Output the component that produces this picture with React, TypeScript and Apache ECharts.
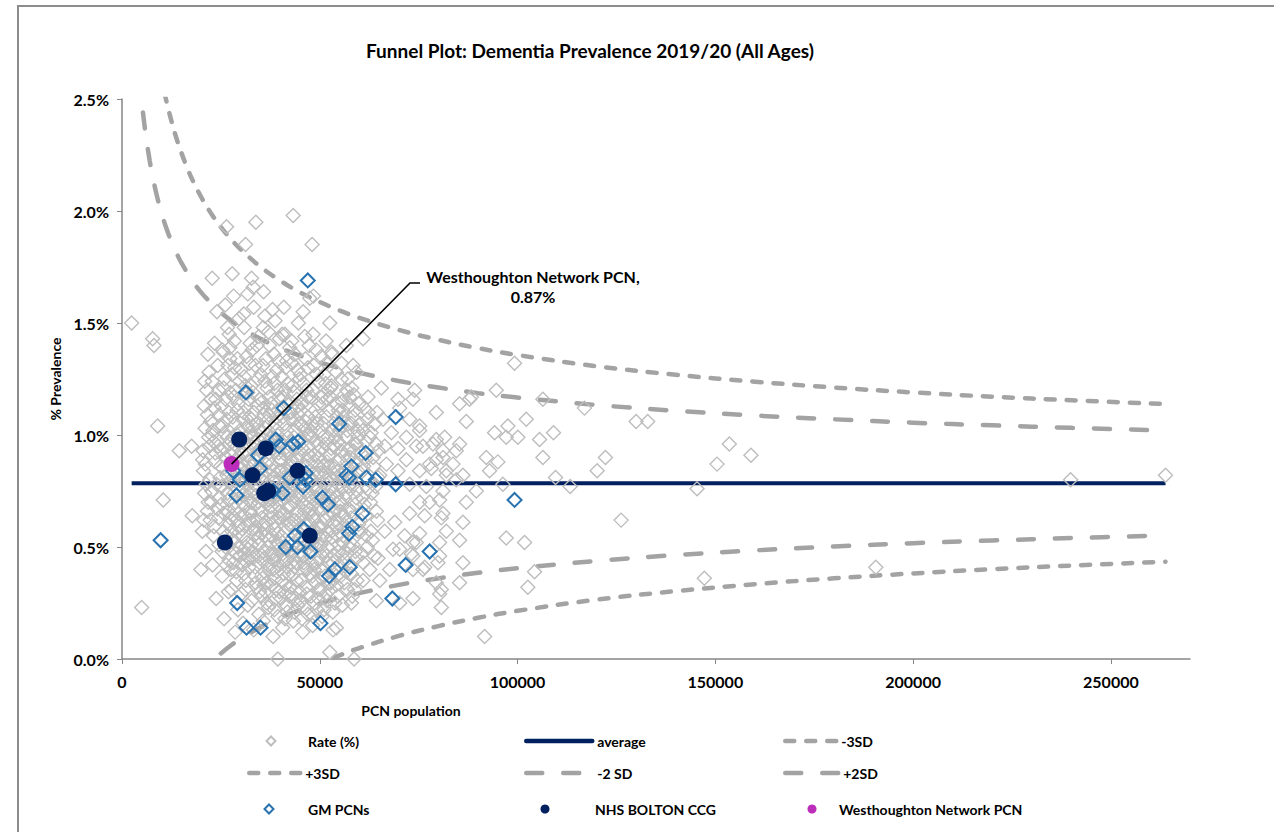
import React, { useEffect, useRef } from "react";
import * as echarts from "echarts";

const xTicks = [0, 50000, 100000, 150000, 200000, 250000];
const yTicks = [0, 0.5, 1, 1.5, 2, 2.5];

// Rate (%) — all PCNs: [population, prevalence %]
const ratePoints: number[][] = [
  [2440, 1.5], [4970, 0.23], [7750, 1.43], [8080, 1.4], [9010, 1.04], [10430, 0.71], [14470, 0.93], [17600, 0.95], [17750, 0.64], [19950, 0.4],
  [22800, 1.7], [26430, 1.93], [27860, 1.72], [31230, 1.85], [32750, 1.7], [33160, 1.66], [33840, 1.95], [43270, 1.98], [47470, 1.61], [48060, 1.85],
  [38050, 1.56], [36110, 1.53], [52530, 1.5], [26680, 1.48], [30890, 1.48], [35690, 1.48], [41160, 1.45], [46210, 1.44], [48310, 1.45], [56730, 1.4],
  [60940, 1.43], [58420, 1.31], [25590, 1.37], [27270, 1.39],
  [52950, 1.37], [51680, 1.32], [55470, 1.25], [52950, 1.22], [65570, 1.21], [57580, 1.17], [62200, 1.17], [69780, 1.16], [73560, 1.16], [87880, 1.16],
  [57580, 1.13], [70200, 1.12], [65990, 1.07], [72730, 1.07], [63890, 1.05], [75250, 1.04], [68100, 1.01], [71890, 0.99], [74410, 0.95], [78620, 0.96],
  [81570, 0.99], [84510, 0.93], [69780, 0.94], [66410, 0.95], [62630, 0.99], [59260, 0.96], [81150, 0.9], [77780, 0.87], [83670, 0.87], [71890, 0.89],
  [66830, 0.87], [69780, 0.84], [75250, 0.84], [81990, 0.82], [86190, 0.82], [65150, 0.82],
  [75250, 1.02], [79460, 0.98], [76090, 0.95], [81150, 0.93], [79460, 0.89], [85350, 0.96], [78200, 0.85], [81990, 0.84], [84510, 0.8], [81150, 0.75],
  [76940, 0.77], [72730, 0.78], [75250, 0.7], [80300, 0.71], [81150, 0.65], [76520, 0.64], [72730, 0.65], [75250, 0.56], [73560, 0.52], [80300, 0.52],
  [73560, 0.46], [80300, 0.46], [87040, 0.7], [86190, 0.61], [81990, 0.57], [85350, 0.53], [80730, 0.63], [77780, 0.7], [68940, 0.61], [66410, 0.57],
  [71460, 0.55], [74410, 0.52], [73150, 0.47], [68520, 0.49], [64730, 0.45], [70200, 0.49], [67680, 0.4], [62630, 0.4], [65150, 0.35], [60940, 0.35],
  [73560, 0.4], [76090, 0.4], [79460, 0.34], [80300, 0.29], [80730, 0.23], [73560, 0.27], [70200, 0.25], [64310, 0.26], [58000, 0.25], [86190, 0.43],
  [85350, 0.34], [53360, 0.13], [52530, 0.03], [39400, 0.0], [58660, 0.0], [54200, 0.14],
  [99240, 1.32], [94620, 1.2], [106400, 1.16], [116920, 1.12], [129970, 1.06], [132900, 1.06], [102200, 1.07], [87040, 1.06], [88300, 1.17], [85350, 1.14],
  [73990, 1.2], [79460, 1.1], [94190, 1.01], [97560, 1.04], [100080, 0.99], [105560, 0.98], [109090, 1.01], [106400, 0.9], [122220, 0.9], [120120, 0.84],
  [153540, 0.96], [150430, 0.87], [159010, 0.91], [145380, 0.76], [113300, 0.77], [109600, 0.81], [126180, 0.62], [96290, 0.78], [92930, 0.84], [95030, 0.88],
  [92090, 0.9], [97140, 0.99], [89570, 0.75], [97140, 0.54], [101770, 0.52], [104290, 0.39], [102600, 0.32], [91670, 0.1], [147220, 0.36], [80730, 0.31],
  [79880, 0.43], [76520, 0.41], [190570, 0.41], [239820, 0.8], [263810, 0.82],
  [20300, 0.57], [21600, 0.66], [20900, 0.74], [22200, 0.8], [21100, 0.87], [20500, 0.93], [21900, 0.99], [22400, 1.06], [20800, 1.13], [21400, 1.2],
  [22000, 1.28], [21200, 0.48], [21700, 1.36], [20600, 0.84], [22300, 0.62],
  [20700, 0.62], [21800, 0.7], [21300, 0.78], [20400, 0.89], [22100, 0.95], [21000, 1.03], [21600, 1.09], [22400, 1.16], [20900, 1.24],
  [23800, 0.27], [22900, 0.42], [24500, 0.51], [23300, 0.59], [24100, 0.67], [22700, 0.75], [24800, 0.81], [23500, 0.88], [24300, 0.95], [23000, 1.02],
  [24600, 1.09], [23700, 1.16], [22800, 1.24], [24200, 1.31], [23400, 1.41], [24000, 1.55], [24700, 0.72], [23200, 0.97],
  [23100, 0.55], [24400, 0.63], [22600, 0.7], [23900, 0.78], [24900, 0.86], [23600, 0.92], [22700, 1.0], [24700, 1.04], [23300, 1.12], [24500, 1.2],
  [25800, 0.18], [26900, 0.3], [25300, 0.37], [27100, 0.44], [26200, 0.5], [25600, 0.57], [27300, 0.63], [25100, 0.69], [26600, 0.74], [27000, 0.79],
  [25500, 0.85], [26300, 0.9], [27200, 0.96], [25900, 1.01], [26500, 1.07], [25200, 1.13], [27400, 1.19], [26000, 1.25], [26800, 1.31], [25400, 1.38],
  [27100, 1.45], [26100, 1.58], [25700, 1.21], [26700, 0.66], [26400, 0.42], [25000, 0.93],
  [25300, 0.48], [26400, 0.55], [27000, 0.6], [25700, 0.65], [26900, 0.71], [25200, 0.77], [26500, 0.82], [27300, 0.88], [25800, 0.94], [26600, 0.99],
  [25400, 1.04], [27000, 1.1], [26200, 1.16], [27300, 1.34],
  [28600, 0.12], [29300, 0.22], [27700, 0.31], [28900, 0.39], [29700, 0.46], [28100, 0.53], [29500, 0.59], [27900, 0.64], [28700, 0.7], [29900, 0.75],
  [28300, 0.8], [29100, 0.86], [27600, 0.91], [28500, 0.96], [29800, 1.02], [28000, 1.08], [29400, 1.14], [28800, 1.2], [27800, 1.27], [29200, 1.34],
  [28400, 1.42], [29600, 1.52], [28200, 1.62], [29000, 0.35], [28700, 1.05], [29400, 0.56], [27900, 0.49],
  [28200, 0.43], [29400, 0.5], [27800, 0.57], [29000, 0.62], [28500, 0.67], [29700, 0.72], [28100, 0.78], [29300, 0.83], [28700, 0.89], [29600, 0.94],
  [28000, 0.99], [29100, 1.11], [28300, 1.17], [29700, 1.24], [28500, 1.3],
  [27600, 0.4], [28800, 0.47], [29500, 0.65], [28300, 0.74], [29900, 0.85], [28000, 0.93], [29200, 1.0],
  [30600, 0.16], [31800, 0.24], [30200, 0.29], [31300, 0.35], [32100, 0.41], [30800, 0.47], [31600, 0.52], [30400, 0.58], [32300, 0.62], [31100, 0.68],
  [30500, 0.73], [31900, 0.78], [30900, 0.83], [32200, 0.88], [31400, 0.93], [30300, 0.98], [31700, 1.04], [30700, 1.1], [32000, 1.16], [31200, 1.22],
  [30100, 1.29], [31500, 1.35], [32400, 1.41], [30800, 1.54], [31800, 1.63], [31000, 0.44], [32000, 0.71], [30400, 0.87], [31300, 1.13],
  [30800, 0.38], [32000, 0.45], [31300, 0.5], [30600, 0.55], [31700, 0.6], [32400, 0.66], [30300, 0.7], [31500, 0.75], [32200, 0.81], [30700, 0.86],
  [31900, 0.91], [31000, 0.96], [32400, 1.01], [30500, 1.07], [31800, 1.19], [30900, 1.26], [32200, 1.32],
  [31200, 0.31], [30400, 0.42], [31900, 0.49], [30900, 0.64], [32300, 0.74], [31200, 0.8], [30400, 0.92], [31600, 0.99], [32200, 1.08],
  [33300, 0.13], [34600, 0.2], [32800, 0.26], [34100, 0.32], [33600, 0.37], [34800, 0.43], [33000, 0.48], [34300, 0.54], [33800, 0.59], [32600, 0.65],
  [34500, 0.7], [33400, 0.76], [34900, 0.81], [32900, 0.86], [34000, 0.91], [33500, 0.97], [34700, 1.02], [32700, 1.07], [34200, 1.13], [33100, 1.19],
  [34400, 1.25], [33700, 1.31], [32900, 1.38], [34600, 1.44], [33300, 1.57], [34000, 0.62], [33200, 1.0], [34800, 0.3],
  [33700, 0.41], [34400, 0.46], [32800, 0.51], [34000, 0.56], [33300, 0.62], [34700, 0.67], [33900, 0.73], [32600, 0.79], [34300, 0.84], [33600, 0.89],
  [34900, 0.94], [33000, 0.99], [34100, 1.05], [33400, 1.1], [34800, 1.16], [32700, 1.22], [34100, 1.4],
  [33800, 0.34], [33100, 0.45], [34600, 0.51], [33500, 0.58], [32700, 0.7], [34200, 0.78], [33700, 0.83], [34500, 0.98], [33000, 1.04],
  [35700, 0.17], [37000, 0.23], [35300, 0.28], [36500, 0.34], [37300, 0.4], [35900, 0.45], [36800, 0.5], [35200, 0.56], [36300, 0.61], [37400, 0.66],
  [35600, 0.71], [36900, 0.77], [35400, 0.82], [36600, 0.87], [37200, 0.92], [35800, 0.98], [36200, 1.03], [37100, 1.09], [35500, 1.15], [36700, 1.21],
  [35100, 1.27], [36400, 1.34], [37300, 1.4], [35800, 1.64], [36000, 0.39], [36900, 1.0], [35300, 0.63],
  [36200, 0.3], [35500, 0.36], [36800, 0.42], [35800, 0.48], [37100, 0.53], [36000, 0.58], [35400, 0.66], [36700, 0.69], [37300, 0.74], [36100, 0.79],
  [35200, 0.85], [37000, 0.89], [35900, 0.95], [36500, 1.06], [35700, 1.12], [37200, 1.17], [36100, 1.24], [35600, 1.31], [37000, 1.46],
  [36600, 0.25], [35900, 0.33], [37400, 0.47], [36300, 0.55], [35600, 0.6], [37100, 0.71], [36400, 0.84], [35400, 0.92], [36900, 0.97], [35900, 1.09],
  [38200, 0.1], [39400, 0.19], [37800, 0.25], [39000, 0.31], [38600, 0.36], [39800, 0.42], [38000, 0.47], [39200, 0.52], [38700, 0.58], [39600, 0.63],
  [37700, 0.68], [38900, 0.73], [39500, 0.79], [38300, 0.84], [39900, 0.89], [38100, 0.94], [39300, 1.0], [38800, 1.05], [37900, 1.11], [39700, 1.17],
  [38500, 1.23], [39100, 1.29], [38400, 1.36], [39800, 1.43], [38700, 1.51], [39400, 0.56], [38200, 0.76], [39000, 1.08],
  [38900, 0.27], [37700, 0.33], [39300, 0.39], [38400, 0.44], [39700, 0.49], [37900, 0.55], [38600, 0.61], [39900, 0.66], [38100, 0.71], [39400, 0.76],
  [38700, 0.81], [37800, 0.87], [39600, 0.92], [38500, 0.97], [39100, 1.02], [37700, 1.14], [39300, 1.2], [38000, 1.26], [39600, 1.33],
  [38500, 0.22], [39800, 0.3], [38200, 0.4], [39000, 0.46], [37800, 0.63], [39200, 0.69], [38400, 0.79], [39800, 0.84], [37900, 0.99], [39300, 1.11],
  [40600, 0.14], [41800, 0.21], [40200, 0.27], [41300, 0.33], [42100, 0.38], [40800, 0.44], [41500, 0.49], [40300, 0.55], [42300, 0.6], [41100, 0.65],
  [40500, 0.71], [41900, 0.76], [40900, 0.81], [42200, 0.86], [41400, 0.91], [40100, 0.97], [41700, 1.02], [40700, 1.08], [42000, 1.14], [41200, 1.2],
  [40400, 1.26], [41600, 1.33], [42400, 1.39], [40900, 1.57], [41000, 0.3], [42000, 0.93], [40300, 1.12],
  [41500, 0.24], [40400, 0.35], [41800, 0.41], [40700, 0.47], [42200, 0.52], [41300, 0.57], [40100, 0.63], [41800, 0.68], [42400, 0.73], [40700, 0.78],
  [41600, 0.84], [40300, 0.89], [42000, 0.99], [41100, 1.05], [42400, 1.1], [40600, 1.17], [41900, 1.23], [41400, 1.3], [40500, 1.45],
  [41200, 0.18], [42300, 0.28], [40900, 0.38], [41400, 0.44], [40500, 0.52], [42000, 0.62], [41000, 0.74], [42400, 0.79], [40300, 0.84], [41300, 0.94],
  [43300, 0.17], [44500, 0.24], [42800, 0.29], [44100, 0.35], [43600, 0.41], [44800, 0.46], [43000, 0.51], [44300, 0.57], [43800, 0.62], [42600, 0.68],
  [44600, 0.73], [43400, 0.78], [44900, 0.84], [42900, 0.89], [44000, 0.94], [43500, 0.99], [44700, 1.05], [42700, 1.1], [44200, 1.16], [43100, 1.22],
  [44400, 1.29], [43700, 1.36], [42900, 1.42], [44600, 1.5], [43200, 0.38], [44000, 1.12],
  [43900, 0.27], [42700, 0.32], [44300, 0.43], [43200, 0.48], [44700, 0.54], [42900, 0.59], [44100, 0.65], [43500, 0.7], [42600, 0.75], [44400, 0.81],
  [43100, 0.86], [44800, 0.91], [43700, 1.02], [42800, 1.07], [44500, 1.13], [43600, 1.19], [44900, 1.25], [43000, 1.32],
  [43600, 0.21], [44900, 0.3], [43400, 0.44], [44500, 0.5], [43300, 0.62], [44100, 0.72], [42700, 0.82], [44200, 0.89], [43000, 0.97], [44600, 1.09],
  [45700, 0.12], [47000, 0.2], [45300, 0.26], [46500, 0.32], [47300, 0.38], [45900, 0.43], [46800, 0.49], [45200, 0.54], [46300, 0.6], [47400, 0.65],
  [45600, 0.7], [46900, 0.75], [45400, 0.81], [46600, 0.86], [47200, 0.91], [45800, 0.97], [46200, 1.03], [47100, 1.08], [45500, 1.14], [46700, 1.2],
  [45100, 1.27], [46400, 1.34], [47300, 1.4], [45800, 1.55], [46100, 0.66], [46800, 1.0],
  [46100, 0.23], [45400, 0.35], [46800, 0.4], [45700, 0.46], [47100, 0.52], [46000, 0.57], [45300, 0.63], [46600, 0.68], [47200, 0.73], [46000, 0.78],
  [45100, 0.84], [46900, 0.89], [45600, 0.94], [47300, 1.0], [46400, 1.06], [45200, 1.11], [46900, 1.17], [45900, 1.23], [47000, 1.3],
  [45500, 0.18], [46700, 0.29], [46200, 0.41], [45200, 0.48], [46400, 0.53], [47300, 0.61], [45800, 0.73], [46300, 0.82], [47100, 0.95], [45400, 1.04],
  [48200, 0.15], [49400, 0.22], [47800, 0.28], [49000, 0.34], [48600, 0.4], [49800, 0.45], [48000, 0.51], [49200, 0.56], [48700, 0.62], [49600, 0.67],
  [47700, 0.72], [48900, 0.77], [49500, 0.83], [48300, 0.88], [49900, 0.93], [48100, 0.99], [49300, 1.05], [48800, 1.11], [47900, 1.17], [49700, 1.24],
  [48500, 1.31], [49100, 1.38], [48400, 1.62], [49000, 0.7],
  [48700, 0.25], [49700, 0.31], [48100, 0.37], [49300, 0.43], [47900, 0.48], [48800, 0.54], [49900, 0.59], [48300, 0.64], [49100, 0.75], [48000, 0.8],
  [49800, 0.86], [48600, 0.91], [49400, 0.96], [47800, 1.02], [48900, 1.08], [49600, 1.14], [48200, 1.2], [49200, 1.27],
  [48400, 0.19], [49600, 0.27], [48000, 0.43], [49100, 0.5], [48500, 0.58], [47700, 0.67], [49300, 0.72], [48400, 0.83], [49700, 0.9], [48100, 1.05],
  [50600, 0.19], [51800, 0.26], [50200, 0.31], [51300, 0.37], [52100, 0.43], [50800, 0.48], [51500, 0.54], [50300, 0.59], [52300, 0.64], [51100, 0.7],
  [50500, 0.75], [51900, 0.8], [50900, 0.86], [52200, 0.91], [51400, 0.96], [50100, 1.02], [51700, 1.08], [50700, 1.14], [52000, 1.2], [51200, 1.27],
  [50400, 1.35], [51600, 1.42],
  [51100, 0.22], [52200, 0.34], [50600, 0.4], [51700, 0.46], [50300, 0.51], [52000, 0.57], [51300, 0.62], [50800, 0.67], [52400, 0.72], [51600, 0.78],
  [50200, 0.83], [51800, 0.88], [50600, 0.94], [52100, 0.99], [51000, 1.05], [52300, 1.11], [50500, 1.17], [51500, 1.23],
  [51500, 0.29], [50400, 0.36], [51900, 0.5], [50700, 0.55], [51900, 0.68], [50300, 0.71], [51300, 0.83], [52300, 0.86], [50800, 0.99], [51900, 1.16],
  [53300, 0.21], [54600, 0.28], [52800, 0.34], [54100, 0.4], [53600, 0.46], [54800, 0.51], [53000, 0.57], [54300, 0.62], [53800, 0.67], [52600, 0.73],
  [54500, 0.78], [53400, 0.83], [54900, 0.89], [52900, 0.94], [54000, 0.99], [53500, 1.05], [54700, 1.11], [52700, 1.17], [54200, 1.28], [53100, 1.36],
  [53800, 0.25], [52700, 0.31], [54200, 0.37], [53200, 0.43], [54700, 0.48], [52900, 0.54], [54100, 0.59], [53500, 0.65], [54900, 0.7], [53000, 0.76],
  [54300, 0.81], [53700, 0.86], [52600, 0.91], [54600, 0.97], [53300, 1.02], [54400, 1.08], [53900, 1.14], [52800, 1.21],
  [54200, 0.33], [53100, 0.39], [54500, 0.55], [53300, 0.61], [54300, 0.73], [53000, 0.8], [54700, 0.84], [53700, 0.95], [54900, 1.02],
  [55700, 0.24], [57000, 0.31], [55300, 0.37], [56500, 0.44], [57300, 0.5], [55900, 0.55], [56800, 0.61], [55200, 0.66], [56300, 0.72], [57400, 0.77],
  [55600, 0.82], [56900, 0.88], [55400, 0.93], [56600, 0.99], [57200, 1.05], [55800, 1.11], [56200, 1.18], [57100, 1.25], [55500, 1.32],
  [56200, 0.34], [55400, 0.41], [56900, 0.47], [55800, 0.52], [57200, 0.58], [56100, 0.64], [55500, 0.69], [56700, 0.74], [55900, 0.8], [57300, 0.85],
  [56300, 0.91], [55200, 0.96], [57000, 1.02], [56000, 1.08], [55700, 1.15], [56800, 1.2],
  [56700, 0.39], [55700, 0.47], [56400, 0.58], [57300, 0.67], [55600, 0.76], [56600, 0.84], [57400, 0.94], [55500, 1.04],
  [58200, 0.28], [59400, 0.35], [57800, 0.42], [59000, 0.48], [58600, 0.54], [59800, 0.6], [58000, 0.66], [59200, 0.72], [58700, 0.78], [59600, 0.84],
  [57700, 0.9], [58900, 0.96], [59500, 1.02], [58300, 1.08], [59900, 1.14], [58100, 1.21], [59300, 1.28],
  [58800, 0.31], [58000, 0.38], [59300, 0.45], [58400, 0.51], [59700, 0.57], [57900, 0.63], [58900, 0.69], [59500, 0.75], [58200, 0.81], [59100, 0.87],
  [58500, 0.93], [59700, 0.99], [58000, 1.05], [59000, 1.11], [58600, 1.18],
  [60600, 0.47], [61800, 0.55], [60200, 0.62], [61300, 0.69], [62100, 0.76], [60800, 0.84], [61500, 0.9], [60300, 1.05], [62300, 1.1],
  [61000, 0.43], [62000, 0.5], [60400, 0.57], [61600, 0.64], [60700, 0.72], [62200, 0.8], [61100, 0.86], [60500, 0.92], [61700, 0.97], [60900, 1.02],
  [62000, 1.07], [61300, 1.12],
  [63300, 0.53], [64600, 0.62], [62800, 0.7], [64100, 0.77], [63600, 0.86], [64800, 0.93],
  [63800, 0.46], [62900, 0.57], [64300, 0.66], [63200, 0.74], [64700, 0.81], [63500, 0.9], [64200, 0.96], [63000, 1.01], [64500, 1.1],
];

// GM PCNs
const gmPoints: number[][] = [
  [9770, 0.53], [31310, 1.19], [40910, 1.12], [54880, 1.05], [69190, 1.08], [38890, 0.98], [39730, 0.95], [43270, 0.96], [44530, 0.97], [34430, 0.91],
  [61620, 0.92], [58000, 0.86], [56740, 0.82], [57400, 0.81], [61780, 0.81], [64140, 0.8], [69190, 0.78], [34850, 0.85], [29800, 0.8], [28960, 0.73],
  [38220, 0.75], [40570, 0.74], [46460, 0.8], [45790, 0.77], [46460, 0.83], [42420, 0.81], [50680, 0.72], [52100, 0.69], [60780, 0.65], [58250, 0.59],
  [57400, 0.56], [41410, 0.5], [43690, 0.55], [44360, 0.5], [45960, 0.58], [47640, 0.48], [53790, 0.4], [52360, 0.37], [57580, 0.41], [71720, 0.42],
  [68350, 0.27], [29120, 0.25], [31480, 0.14], [35020, 0.14], [50170, 0.16], [77780, 0.48], [99240, 0.71], [46970, 1.69], [28100, 0.84],
];

// NHS BOLTON CCG
const boltonPoints: number[][] = [
  [29630, 0.98], [36360, 0.94], [33000, 0.82], [44360, 0.84], [35940, 0.74], [36950, 0.75], [26010, 0.52], [47470, 0.55],
];

// Westhoughton Network PCN
const westhoughtonPoints: number[][] = [[27700, 0.87]];

const averageLine: number[][] = [[2440, 0.785], [263810, 0.785]];

const plus3SD: number[][] = [
  [8000, 2.805], [9000, 2.69], [10000, 2.592], [11000, 2.508], [12000, 2.435], [13500, 2.34], [15000, 2.261], [16500, 2.192],
  [18000, 2.132], [20000, 2.063], [22500, 1.99], [25000, 1.928], [27500, 1.875], [30000, 1.829], [35000, 1.751], [40000, 1.689],
  [45000, 1.637], [50000, 1.594], [55000, 1.556], [60000, 1.523], [70000, 1.469], [80000, 1.425], [90000, 1.388], [100000, 1.357],
  [120000, 1.307], [140000, 1.269], [160000, 1.238], [180000, 1.212], [200000, 1.19], [220000, 1.171], [240000, 1.155], [263810, 1.138],
];
const plus2SD: number[][] = [
  [5300, 2.44], [5600, 2.395], [6000, 2.34], [7000, 2.225], [8000, 2.132], [9000, 2.055], [10000, 1.99], [11000, 1.934],
  [12500, 1.863], [14000, 1.804], [15000, 1.769], [17500, 1.696], [20000, 1.637], [22500, 1.589], [25000, 1.547], [27500, 1.512],
  [30000, 1.481], [35000, 1.43], [40000, 1.388], [45000, 1.354], [50000, 1.324], [55000, 1.299], [60000, 1.278], [70000, 1.241],
  [80000, 1.212], [90000, 1.187], [100000, 1.167], [120000, 1.134], [140000, 1.108], [160000, 1.087], [180000, 1.07], [200000, 1.055],
  [220000, 1.043], [240000, 1.032], [263810, 1.02],
];
const minus2SD: number[][] = [
  [25000, 0.025], [27500, 0.06], [30000, 0.091], [35000, 0.142], [40000, 0.184], [45000, 0.218], [50000, 0.248], [55000, 0.273],
  [60000, 0.294], [70000, 0.331], [80000, 0.36], [90000, 0.385], [100000, 0.405], [120000, 0.438], [140000, 0.464], [160000, 0.485],
  [180000, 0.502], [200000, 0.517], [220000, 0.529], [240000, 0.54], [263810, 0.552],
];
const minus3SD: number[][] = [
  [53500, 0.005], [55000, 0.016], [60000, 0.049], [70000, 0.103], [80000, 0.147], [90000, 0.184], [100000, 0.215], [120000, 0.265],
  [140000, 0.303], [160000, 0.334], [180000, 0.36], [200000, 0.382], [220000, 0.401], [240000, 0.417], [263810, 0.434],
];

const titleText = "Funnel Plot: Dementia Prevalence 2019/20 (All Ages)";
const xName = "PCN population";
const yName = "% Prevalence";
const annotationText = "Westhoughton Network PCN,\n0.87%";

const FONT = "Lato, 'Open Sans', sans-serif";
const GRAY_LINE = "#A3A3A3";
const NAVY = "#002060";
const SHORT_DASH = [9, 12];
const LONG_DASH = [16, 21];

export default function App() {
  const ref = useRef<HTMLDivElement>(null);
  useEffect(() => {
    const chart = echarts.init(ref.current!, null, { renderer: "svg" });
    const legendText = { fontFamily: FONT, fontSize: 14, fontWeight: "bold" as const, color: "#000" };
    const lineLegend = (name: string, left: number, width: number, rowY: number, color: string, dash: any) => ({
      data: [name],
      left,
      top: rowY - 9,
      itemWidth: width,
      itemHeight: 14,
      padding: 0,
      selectedMode: false,
      itemStyle: { opacity: 0 },
      lineStyle: { color, width: 4.5, type: dash, cap: "round" },
      textStyle: legendText,
    });
    const symLegend = (name: string, iconCenter: number, textLeft: number, rowY: number) => ({
      data: [name],
      left: iconCenter - 4.5,
      top: rowY - 9,
      itemWidth: 9,
      itemHeight: 9,
      padding: 0,
      selectedMode: false,
      textStyle: { ...legendText, padding: [0, 0, 0, textLeft - (iconCenter + 4.5 + 5)] },
    });
    const dashLine = (name: string, data: number[][], dash: number[]) => ({
      name,
      type: "line",
      data,
      symbol: "none",
      showSymbol: false,
      smooth: 0.4,
      silent: true,
      lineStyle: { color: GRAY_LINE, width: 4.5, type: dash, cap: "round" },
      itemStyle: { color: GRAY_LINE },
      z: 2,
    });
    const option: any = {
      animation: false,
      backgroundColor: "#fff",
      grid: { left: 122, top: 99, right: 84, bottom: 173 },
      xAxis: {
        type: "value",
        min: 0,
        max: 270000,
        interval: 50000,
        splitLine: { show: false },
        axisLine: { lineStyle: { color: "#868686", width: 1.5 } },
        axisTick: { show: true, inside: false, length: 5, lineStyle: { color: "#868686" }, customValues: xTicks },
        axisLabel: {
          customValues: xTicks,
          margin: 14,
          fontFamily: FONT,
          fontSize: 16,
          fontWeight: "bold",
          color: "#000",
          formatter: (v: number) => (v % 50000 === 0 ? String(v) : ""),
        },
      },
      yAxis: {
        type: "value",
        min: 0,
        max: 2.5,
        interval: 0.5,
        splitLine: { show: false },
        axisLine: { show: true, lineStyle: { color: "#868686", width: 1.5 } },
        axisTick: { show: true, inside: false, length: 5, lineStyle: { color: "#868686" }, customValues: yTicks },
        axisLabel: {
          customValues: yTicks,
          margin: 13,
          fontFamily: FONT,
          fontSize: 16,
          fontWeight: "bold",
          color: "#000",
          formatter: (v: number) => v.toFixed(1) + "%",
        },
      },
      legend: [
        symLegend("Rate (%)", 270, 307, 743),
        lineLegend("average", 524, 66, 743, NAVY, "solid"),
        lineLegend("-3SD", 783, 51, 743, GRAY_LINE, SHORT_DASH),
        lineLegend("+3SD", 247, 51, 775, GRAY_LINE, SHORT_DASH),
        lineLegend("-2 SD", 524, 66, 775, GRAY_LINE, LONG_DASH),
        lineLegend("+2SD", 783, 53, 775, GRAY_LINE, LONG_DASH),
        symLegend("GM PCNs", 268, 307, 811),
        symLegend("NHS BOLTON CCG", 545, 595, 811),
        symLegend("Westhoughton Network PCN", 812, 839, 811),
      ],
      series: [
        {
          name: "average",
          type: "line",
          data: averageLine,
          symbol: "none",
          showSymbol: false,
          silent: true,
          lineStyle: { color: NAVY, width: 4 },
          itemStyle: { color: NAVY },
          z: 1,
        },
        dashLine("-3SD", minus3SD, SHORT_DASH),
        dashLine("+3SD", plus3SD, SHORT_DASH),
        dashLine("-2 SD", minus2SD, LONG_DASH),
        dashLine("+2SD", plus2SD, LONG_DASH),
        {
          name: "Rate (%)",
          type: "scatter",
          data: ratePoints,
          symbol: "diamond",
          symbolSize: 14,
          silent: true,
          itemStyle: { color: "rgba(255,255,255,0)", borderColor: "#BDBDBD", borderWidth: 1.4, opacity: 1 },
          z: 3,
        },
        {
          name: "GM PCNs",
          type: "scatter",
          data: gmPoints,
          symbol: "diamond",
          symbolSize: 14,
          silent: true,
          itemStyle: { color: "rgba(255,255,255,0)", borderColor: "#2872B0", borderWidth: 2, opacity: 1 },
          z: 4,
        },
        {
          name: "NHS BOLTON CCG",
          type: "scatter",
          data: boltonPoints,
          symbol: "circle",
          symbolSize: 16,
          silent: true,
          itemStyle: { color: NAVY, opacity: 1 },
          z: 5,
        },
        {
          name: "Westhoughton Network PCN",
          type: "scatter",
          data: westhoughtonPoints,
          symbol: "circle",
          symbolSize: 16,
          silent: true,
          itemStyle: { color: "#BC2DBC", opacity: 1 },
          z: 6,
        },
      ],
    };
    chart.setOption(option);
    const pt = chart.convertToPixel({ gridIndex: 0 }, westhoughtonPoints[0]) as number[];
    chart.setOption({
      graphic: [
        {
          type: "rect",
          silent: true,
          shape: { x: 18, y: 6, width: 1300, height: 900 },
          style: { fill: "none", stroke: "#8C8C8C", lineWidth: 2 },
          z: 0,
        },
        {
          type: "text",
          x: 590,
          y: 50,
          style: { text: titleText, align: "center", verticalAlign: "middle", fontFamily: FONT, fontSize: 19, fontWeight: "bold", fill: "#000" },
        },
        {
          type: "text",
          x: 55,
          y: 379,
          rotation: Math.PI / 2,
          style: { text: yName, align: "center", verticalAlign: "middle", fontFamily: FONT, fontSize: 14, fontWeight: "bold", fill: "#000" },
        },
        {
          type: "text",
          x: 411,
          y: 710,
          style: { text: xName, align: "center", verticalAlign: "middle", fontFamily: FONT, fontSize: 14, fontWeight: "bold", fill: "#000" },
        },
        {
          type: "polyline",
          silent: true,
          z: 100,
          shape: { points: [[pt[0], pt[1]], [410, 283], [420, 283]] },
          style: { stroke: "#000", lineWidth: 1.6, fill: "none" },
        },
        {
          type: "text",
          x: 533,
          y: 286,
          z: 100,
          style: {
            text: annotationText,
            align: "center",
            verticalAlign: "middle",
            lineHeight: 20,
            fontFamily: FONT,
            fontSize: 16,
            fontWeight: "bold",
            fill: "#000",
          },
        },
      ],
    });
    return () => chart.dispose();
  }, []);
  return (
    <div
      ref={ref}
      style={{ position: "fixed", left: 0, top: 0, width: 1274, height: 832, background: "#fff" }}
    />
  );
}
